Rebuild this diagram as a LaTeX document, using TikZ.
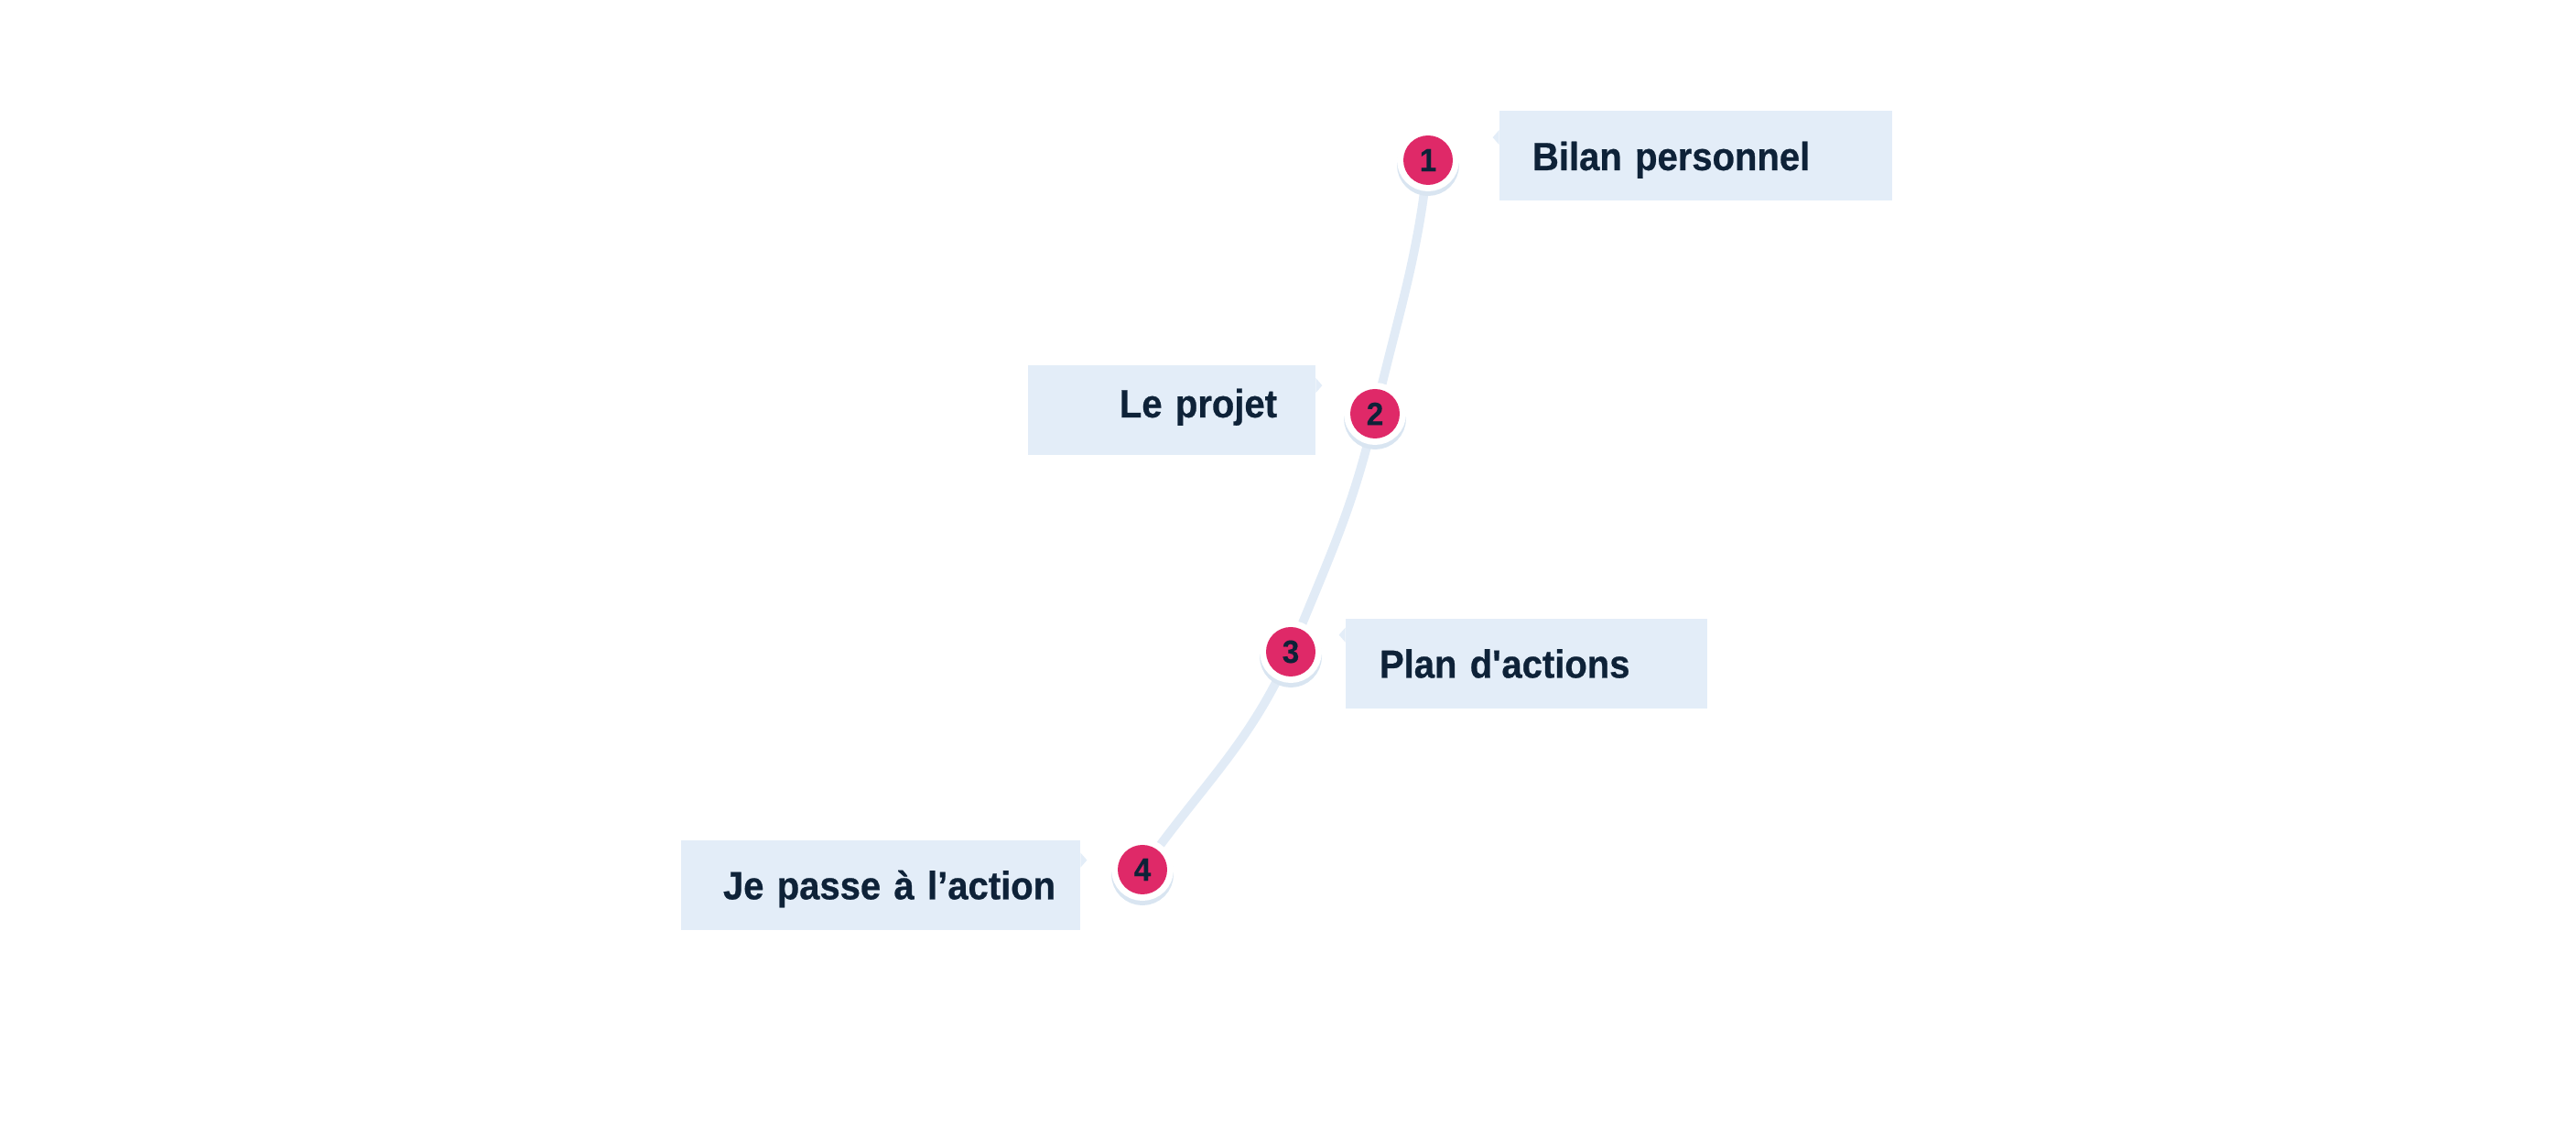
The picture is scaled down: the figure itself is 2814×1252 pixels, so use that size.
\documentclass[tikz,border=0pt]{standalone}
\usepackage{fontspec}
\setmainfont{Liberation Sans}
\newfontfamily\lblfamily[FakeStretch=0.93, WordSpace=0.75, BoldFeatures={FakeBold=0.6}]{Liberation Sans}
\newfontfamily\numfamily[FakeStretch=0.95, BoldFeatures={FakeBold=0.4}]{Liberation Sans}
\usetikzlibrary{calc}
\definecolor{pinkc}{HTML}{DF2968}
\definecolor{navy}{HTML}{0E2238}
\definecolor{boxblue}{HTML}{E3EDF8}
\definecolor{trailblue}{HTML}{E1EBF6}
\definecolor{shadowblue}{HTML}{D9E5F1}
\pgfdeclarelayer{background}
\pgfsetlayers{background,main}
\tikzset{
  num/.style={circle, fill=pinkc, draw=none, minimum size=27pt, inner sep=0pt,
    text=navy, font=\numfamily\bfseries\fontsize{17.5pt}{18pt}\selectfont,
    preaction={draw=shadowblue, fill=shadowblue, line width=7pt, transform canvas={yshift=-2.5pt}},
    preaction={draw=white, fill=white, line width=7pt}},
  lbl/.style={fill=boxblue, minimum height=49pt, inner ysep=0pt, text=navy,
    text height=15.4pt, text depth=0pt,
    font=\lblfamily\bfseries\fontsize{21.5pt}{24pt}\selectfont},
  trail/.style={draw=trailblue, line width=4.8pt},
  tip/.style={fill=boxblue, draw=none}
}
\begin{document}
\begin{tikzpicture}[x=0.5pt, y=0.5pt]
\useasboundingbox (0,0) rectangle (2814,1252);
% step circles
\node[num] (c1) at (1560,1077) {1};
\node[num] (c2) at (1502,800) {2};
\node[num] (c3) at (1410,540) {3};
\node[num] (c4) at (1248,302) {4};
% trail
\begin{pgfonlayer}{background}
\draw[trail] (c1.center) to[out=-96,in=77] (c2.center)
  to[out=-103,in=68] (c3.center)
  to[out=-114,in=55] (c4.center);
\end{pgfonlayer}
% label boxes
\node[lbl, inner xsep=18pt, text width=178.5pt, align=left] (b1) at (1852.5,1081.5) {\mbox{Bilan personnel}};
\node[lbl, inner xsep=21pt, text width=115pt, align=right, text height=11.4pt, text depth=4pt] (b2) at (1280,803.5) {\mbox{Le projet}};
\node[lbl, inner xsep=18.5pt, text width=160.5pt, align=left] (b3) at (1667.5,527) {\mbox{Plan d\textquotesingle actions}};
\node[lbl, inner xsep=23pt, text width=172pt, align=right] (b4) at (962,285) {\mbox{Je passe à l’action}};
% pointers
\fill[tip] ($(b1.north west)+(0,-10.5pt)$) -- ($(b1.north west)+(-3.5pt,-14.5pt)$) -- ($(b1.north west)+(0,-18.5pt)$) -- cycle;
\fill[tip] ($(b2.north east)+(0,-7pt)$) -- ($(b2.north east)+(3.5pt,-11pt)$) -- ($(b2.north east)+(0,-15pt)$) -- cycle;
\fill[tip] ($(b3.north west)+(0,-5pt)$) -- ($(b3.north west)+(-3.5pt,-9pt)$) -- ($(b3.north west)+(0,-13pt)$) -- cycle;
\fill[tip] ($(b4.north east)+(0,-7pt)$) -- ($(b4.north east)+(3.5pt,-11pt)$) -- ($(b4.north east)+(0,-15pt)$) -- cycle;
\end{tikzpicture}
\end{document}
